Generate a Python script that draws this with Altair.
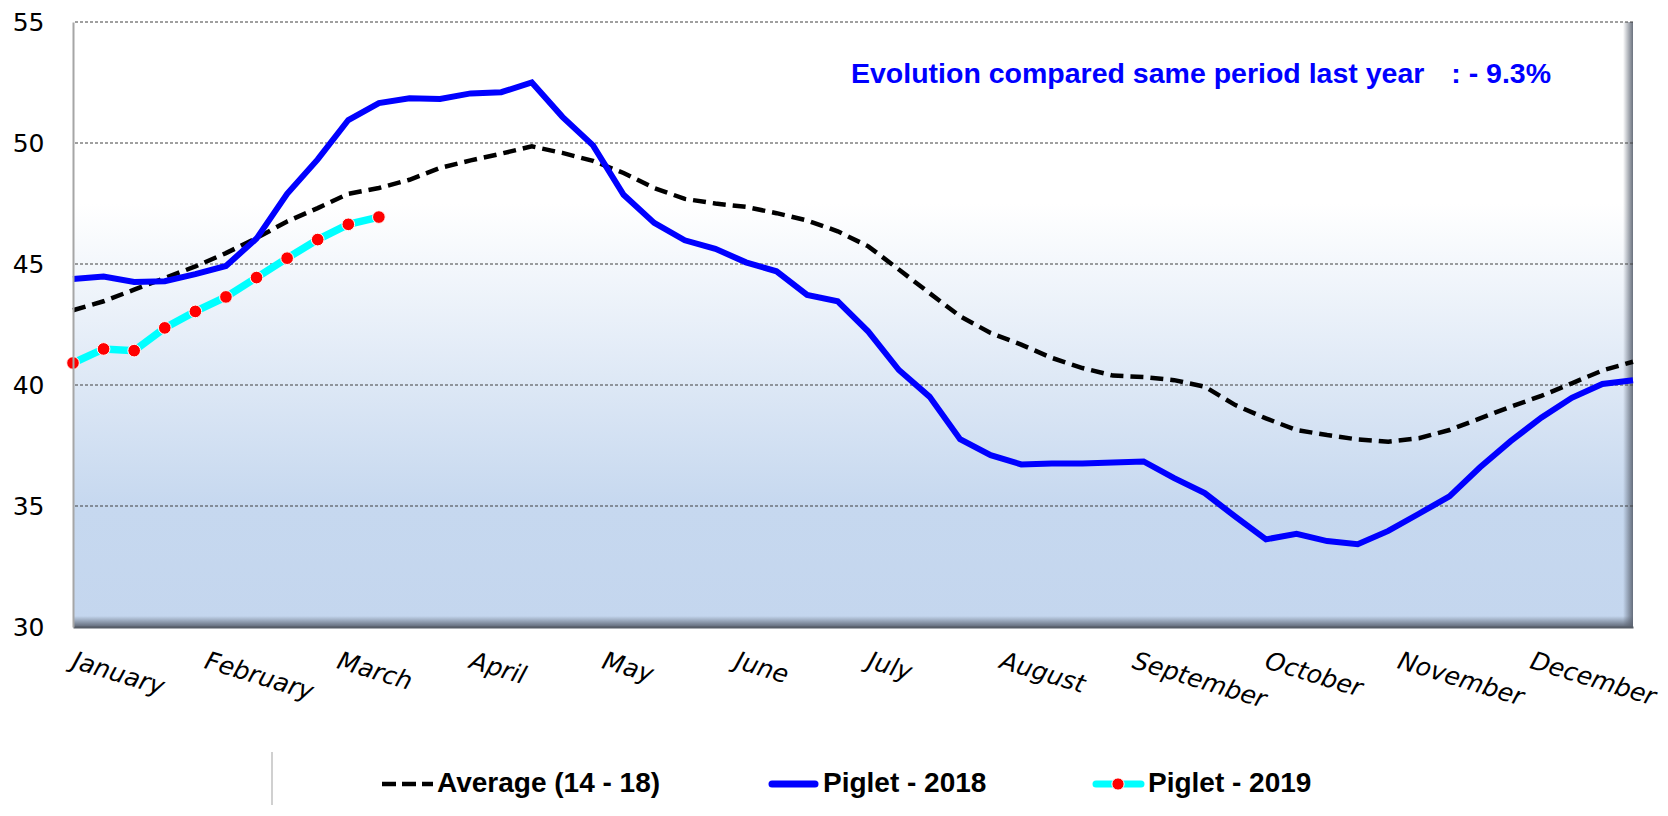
import json
import altair as alt
import pandas as pd

# ---------------- data ----------------
weeks = list(range(52))
avg_14_18 = [43.09, 43.46, 43.94, 44.42, 44.90, 45.45, 46.07, 46.76, 47.31, 47.90,
             48.14, 48.48, 48.97, 49.28, 49.56, 49.86, 49.59, 49.26, 48.76, 48.14,
             47.69, 47.50, 47.36, 47.10, 46.80, 46.35, 45.73, 44.77, 43.80, 42.84,
             42.15, 41.67, 41.12, 40.70, 40.39, 40.33, 40.20, 39.93, 39.17, 38.62,
             38.14, 37.93, 37.75, 37.66, 37.80, 38.14, 38.62, 39.10, 39.55, 40.07,
             40.60, 40.96]
piglet_2018 = [44.38, 44.48, 44.26, 44.29, 44.58, 44.92, 46.05, 47.90, 49.32, 50.95,
               51.65, 51.85, 51.82, 52.05, 52.10, 52.50, 51.08, 49.90, 47.86, 46.70,
               45.98, 45.63, 45.07, 44.70, 43.72, 43.46, 42.21, 40.62, 39.52, 37.76,
               37.10, 36.72, 36.76, 36.76, 36.80, 36.84, 36.15, 35.53, 34.56, 33.62,
               33.85, 33.55, 33.42, 33.97, 34.68, 35.40, 36.60, 37.68, 38.65, 39.47,
               40.04, 40.20]
piglet_2019 = [40.91, 41.49, 41.42, 42.36, 43.04, 43.64, 44.44, 45.24, 46.01, 46.64, 46.94]
months = ["January", "February", "March", "April", "May", "June", "July",
          "August", "September", "October", "November", "December"]
y_ticks = [30, 35, 40, 45, 50, 55]
grid_vals = [35, 40, 45, 50, 55]
annotation_text = "Evolution compared same period last year"
annotation_value = ":  - 9.3%"
legend_labels = ["Average (14 - 18)", "Piglet - 2018", "Piglet - 2019"]

# ---------------- layout ----------------
W, H = 1560, 605

df_avg = pd.DataFrame({"week": weeks, "value": avg_14_18})
df_2018 = pd.DataFrame({"week": weeks, "value": piglet_2018})
df_2019 = pd.DataFrame({"week": weeks[:len(piglet_2019)], "value": piglet_2019})
df_grid = pd.DataFrame({"v": grid_vals})
one = pd.DataFrame({"a": [0]})

month_ticks = [k * 52 / 12 for k in range(len(months))]
label_expr = json.dumps(months) + "[round(datum.value*12/52)]"

x_scale = alt.Scale(domain=[0, 51], nice=False, zero=False)
y_scale = alt.Scale(domain=[30, 55], nice=False, zero=False)

x_axis = alt.Axis(values=month_ticks, labelExpr=label_expr, title=None, grid=False,
                  ticks=False, labelAngle=17, labelAlign="left", labelBaseline="top",
                  labelPadding=21, labelOffset=3, labelFont="DejaVu Sans",
                  labelFontStyle="italic", labelFontSize=25, labelColor="#000000",
                  labelFlush=False, labelOverlap=False, labelBound=False,
                  domainColor="#565d67", domainWidth=2, zindex=1)
y_axis = alt.Axis(values=y_ticks, title=None, grid=False, ticks=False,
                  labelPadding=29, labelFont="DejaVu Sans", labelFontSize=25,
                  labelColor="#000000", domainColor="#a6a6a6", domainWidth=2,
                  labelFlush=False, labelOverlap=False, zindex=1)

X = alt.X("week:Q", scale=x_scale, axis=x_axis)
Y = alt.Y("value:Q", scale=y_scale, axis=y_axis)

bg = alt.Chart(one).mark_rect(
    fill=alt.Gradient(gradient="linear", x1=0, x2=0, y1=0, y2=1, stops=[
        alt.GradientStop(color="#ffffff", offset=0),
        alt.GradientStop(color="#ffffff", offset=0.3),
        alt.GradientStop(color="#c6d8ef", offset=0.8),
        alt.GradientStop(color="#c4d6ee", offset=1),
    ])
).encode(x=alt.value(0), x2=alt.value(W), y=alt.value(0), y2=alt.value(H))

shadow_right = alt.Chart(one).mark_rect(
    fill=alt.Gradient(gradient="linear", x1=0, x2=1, y1=0, y2=0, stops=[
        alt.GradientStop(color="rgba(90,98,112,0)", offset=0),
        alt.GradientStop(color="rgba(90,98,112,0.9)", offset=1),
    ])
).encode(x=alt.value(W - 10), x2=alt.value(W), y=alt.value(0), y2=alt.value(H))

shadow_bottom = alt.Chart(one).mark_rect(
    fill=alt.Gradient(gradient="linear", x1=0, x2=0, y1=0, y2=1, stops=[
        alt.GradientStop(color="rgba(90,98,112,0)", offset=0),
        alt.GradientStop(color="rgba(90,98,112,0.95)", offset=1),
    ])
).encode(x=alt.value(0), x2=alt.value(W), y=alt.value(H - 11), y2=alt.value(H))

grid = alt.Chart(df_grid).mark_rule(color="#404040", strokeWidth=1, strokeDash=[3, 2]).encode(
    y=alt.Y("v:Q", scale=y_scale, axis=y_axis)
)

line_avg = alt.Chart(df_avg).mark_line(color="#000000", strokeWidth=4.5, strokeDash=[13, 7]).encode(x=X, y=Y)
line_2018 = alt.Chart(df_2018).mark_line(color="#0000ff", strokeWidth=6).encode(x=X, y=Y)
line_2019 = alt.Chart(df_2019).mark_line(color="#00ffff", strokeWidth=7.5).encode(x=X, y=Y)
pts_2019 = alt.Chart(df_2019).mark_point(filled=True, fill="#ff0000", stroke="#ffffff",
                                         strokeWidth=1, size=160, opacity=1, shape="circle").encode(x=X, y=Y)

ann1 = alt.Chart(one).mark_text(text=annotation_text, font="Liberation Sans", fontWeight="bold",
                                fontSize=28.5, color="#0000ff", align="left", baseline="middle").encode(
    x=alt.value(778), y=alt.value(52))
ann2 = alt.Chart(one).mark_text(text=annotation_value, font="Liberation Sans", fontWeight="bold",
                                fontSize=28.5, color="#0000ff", align="right", baseline="middle").encode(
    x=alt.value(1478), y=alt.value(52))

# legend (custom)
LY = 762
leg_frame = alt.Chart(one).mark_rule(color="#d0d0d0", strokeWidth=2).encode(
    x=alt.value(199), y=alt.value(730), y2=alt.value(790))
leg_avg = alt.Chart(one).mark_rule(color="#000000", strokeWidth=4.5, strokeDash=[14, 6]).encode(
    x=alt.value(309), x2=alt.value(360), y=alt.value(LY))
leg_2018 = alt.Chart(one).mark_rule(color="#0000ff", strokeWidth=7, strokeCap="round").encode(
    x=alt.value(699), x2=alt.value(742), y=alt.value(LY))
leg_2019 = alt.Chart(one).mark_rule(color="#00ffff", strokeWidth=7, strokeCap="round").encode(
    x=alt.value(1023), x2=alt.value(1068), y=alt.value(LY))
leg_dot = alt.Chart(one).mark_point(filled=True, fill="#ff0000", stroke="#ffffff", strokeWidth=1,
                                    size=150, opacity=1, shape="circle").encode(
    x=alt.value(1045), y=alt.value(LY))
leg_texts = []
for lbl, xp in zip(legend_labels, [364, 750, 1075]):
    leg_texts.append(
        alt.Chart(one).mark_text(text=lbl, font="Liberation Sans", fontWeight="bold", fontSize=28,
                                 color="#000000", align="left", baseline="middle").encode(
            x=alt.value(xp), y=alt.value(LY))
    )

chart = alt.layer(
    bg, shadow_right, shadow_bottom, grid, line_avg, line_2018, line_2019, pts_2019,
    ann1, ann2, leg_frame, leg_avg, leg_2018, leg_2019, leg_dot, *leg_texts
).properties(
    width=W, height=H,
    autosize=alt.AutoSizeParams(type="none"),
    padding={"left": 65, "top": 14, "right": 27, "bottom": 178},
).configure_view(stroke=None)

chart.save("out.html", embed_options={"renderer": "svg", "actions": False})
